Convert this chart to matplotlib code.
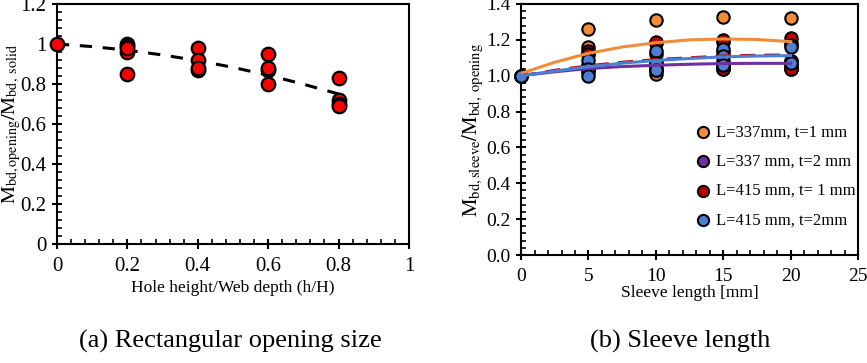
#!/usr/bin/env python3
"""Two-panel moment ratio chart: opening size and sleeve length."""

import matplotlib
matplotlib.use("Agg")
import matplotlib.pyplot as plt
from matplotlib.ticker import MultipleLocator, FuncFormatter

plt.rcParams['font.family'] = ['Liberation Serif', 'DejaVu Serif']
plt.rcParams['mathtext.fontset'] = 'stix'

# ---- panel (a) data ----
hole_ratio = [0, 0.2, 0.2, 0.2, 0.2, 0.2, 0.4, 0.4, 0.4, 0.4,
              0.6, 0.6, 0.6, 0.6, 0.8, 0.8, 0.8, 0.8]
moment_ratio = [1.0, 1.0, 0.99, 0.96, 0.98, 0.85, 0.98, 0.92, 0.87, 0.88,
                0.95, 0.87, 0.88, 0.80, 0.83, 0.72, 0.70, 0.69]
trend_x = [0, 0.1, 0.2, 0.3, 0.4, 0.5, 0.6, 0.7, 0.8]
trend_y = [1.0, 0.987, 0.969, 0.945, 0.917, 0.883, 0.844, 0.799, 0.75]

# ---- panel (b) data ----
labels_b = ["L=337mm, t=1 mm", "L=337 mm, t=2 mm",
            "L=415 mm, t= 1 mm", "L=415 mm, t=2mm"]
colors_b = ["#f28c38", "#7030a0", "#c00000", "#4a7fd4"]
sleeve_x = [0, 5, 5, 5, 10, 10, 10, 15, 15, 15, 20, 20, 20]
orange_pts = [1.0, 1.26, 1.16, 1.12, 1.31, 1.18, 1.01, 1.33, 1.19, 1.05, 1.32, 1.18, 1.05]
purple_pts = [1.0, 1.05, 1.03, 1.02, 1.07, 1.05, 1.03, 1.08, 1.06, 1.04, 1.08, 1.06, 1.04]
red_pts = [1.0, 1.14, 1.12, 1.06, 1.19, 1.12, 1.03, 1.20, 1.13, 1.04, 1.21, 1.17, 1.04]
blue_pts = [1.0, 1.09, 1.04, 1.00, 1.14, 1.07, 1.03, 1.15, 1.11, 1.06, 1.16, 1.08, 1.07]
fit_x = [0, 2.5, 5, 7.5, 10, 12.5, 15, 17.5, 20]
orange_fit = [1.013, 1.075, 1.125, 1.16, 1.184, 1.2, 1.205, 1.202, 1.19]
purple_fit = [1.0, 1.022, 1.04, 1.051, 1.058, 1.064, 1.068, 1.069, 1.069]
red_fit = [1.0, 1.03, 1.055, 1.075, 1.09, 1.1, 1.11, 1.114, 1.116]
blue_fit = [1.0, 1.026, 1.05, 1.07, 1.085, 1.096, 1.105, 1.11, 1.112]

fig = plt.figure(figsize=(8.67, 3.63), dpi=100)
fig.patch.set_facecolor('white')


def style_axes(ax, fs):
    for sp in ax.spines.values():
        sp.set_linewidth(1.5)
    ax.tick_params(which='major', direction='inout', length=7, width=1.5,
                   labelsize=fs, pad=4)
    ax.tick_params(which='minor', direction='in', length=3.5, width=1.2)
    ax.tick_params(axis='x', which='major', pad=6)


# ---- panel (a) ----
ax1 = fig.add_axes([0.0657, 0.328, 0.406, 0.661])
ax1.plot(trend_x, trend_y, ls=(0, (4, 3.5)), color='black', lw=2.2, zorder=2)
ax1.scatter(hole_ratio, moment_ratio, s=95, color='#ff0000',
            edgecolor='black', linewidth=1.6, zorder=3, clip_on=False)
ax1.set_xlim(0, 1)
ax1.set_ylim(0, 1.2)
ax1.xaxis.set_major_locator(MultipleLocator(0.2))
ax1.xaxis.set_minor_locator(MultipleLocator(0.04))
ax1.yaxis.set_major_locator(MultipleLocator(0.2))
ax1.yaxis.set_minor_locator(MultipleLocator(0.04))
fmt_general = FuncFormatter(lambda v, p: f"{v:.1f}".rstrip('0').rstrip('.') if v else "0")
ax1.xaxis.set_major_formatter(fmt_general)
ax1.yaxis.set_major_formatter(fmt_general)
style_axes(ax1, 15)
ax1.set_xlabel("Hole height/Web depth (h/H)", fontsize=12.5, labelpad=3)
ax1.set_ylabel(r"$\mathrm{M_{bd,opening}/M_{bd,\ solid}}$", fontsize=14.5, labelpad=-1.5)

# ---- panel (b) ----
ax2 = fig.add_axes([0.601, 0.2975, 0.3887, 0.6915])
for pts, c, lab in zip([orange_pts, purple_pts, red_pts, blue_pts], colors_b, labels_b):
    ax2.scatter(sleeve_x, pts, s=80, color=c, edgecolor='black',
                linewidth=1.5, zorder=3, label=lab, clip_on=False)
for fit, c, ls in zip([orange_fit, red_fit, purple_fit, blue_fit],
                      [colors_b[0], colors_b[2], colors_b[1], colors_b[3]],
                      ['-', (0, (5, 3)), '-', '-']):
    ax2.plot(fit_x, fit, color=c, lw=2.2, ls=ls, zorder=4)
ax2.set_xlim(0, 25)
ax2.set_ylim(0, 1.4)
ax2.xaxis.set_major_locator(MultipleLocator(5))
ax2.xaxis.set_minor_locator(MultipleLocator(1))
ax2.yaxis.set_major_locator(MultipleLocator(0.2))
ax2.yaxis.set_minor_locator(MultipleLocator(0.04))
ax2.yaxis.set_major_formatter(FuncFormatter(lambda v, p: f"{v:.1f}"))
style_axes(ax2, 14)
ax2.set_xlabel("Sleeve length [mm]", fontsize=12.5, labelpad=0)
ax2.set_ylabel(r"$\mathrm{M_{bd,sleeve}/M_{bd,\ opening}}$", fontsize=15, labelpad=1)
ax2.legend(loc='upper left', bbox_to_anchor=(0.47, 0.547), frameon=False,
           fontsize=12, handletextpad=-0.2, labelspacing=0.8,
           borderaxespad=0.0, markerscale=0.9)

# ---- captions ----
fig.text(0.266, 0.06, "(a) Rectangular opening size", ha='center', va='center', fontsize=19)
fig.text(0.785, 0.06, "(b) Sleeve length", ha='center', va='center', fontsize=19)

fig.savefig("out.png", dpi=100, facecolor='white')
